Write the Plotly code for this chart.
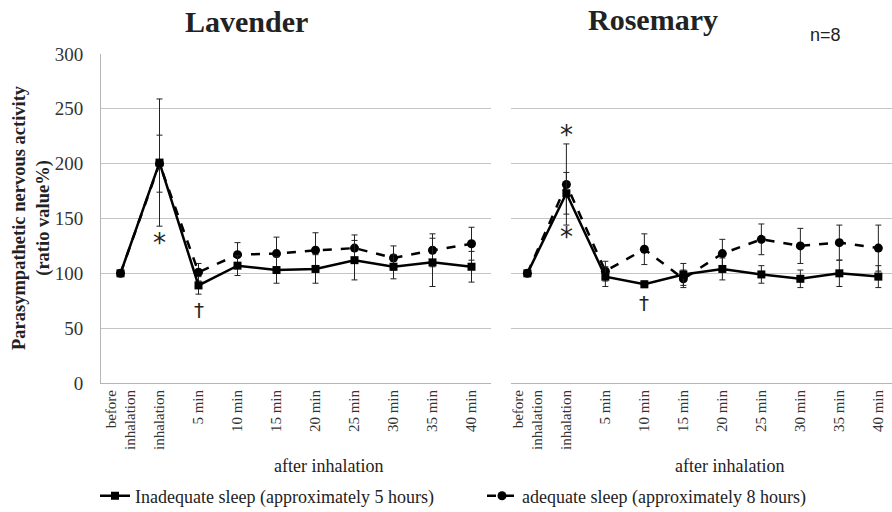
import plotly.graph_objects as go

categories = ["before<br>inhalation", "inhalation", "5 min", "10 min", "15 min",
              "20 min", "25 min", "30 min", "35 min", "40 min"]

lav_inadequate = [100, 201, 89, 107, 103, 104, 112, 106, 110, 106]
lav_inadequate_err = [0, 58, 8, 9, 12, 13, 18, 11, 22, 14]
lav_adequate = [100, 200, 101, 117, 118, 121, 123, 114, 121, 127]
lav_adequate_err = [0, 26, 8, 11, 15, 16, 12, 11, 15, 15]

ros_inadequate = [100, 173, 97, 90, 99, 104, 99, 95, 100, 97]
ros_inadequate_err = [0, 19, 9, 3, 10, 10, 8, 8, 12, 10]
ros_adequate = [100, 181, 102, 122, 95, 118, 131, 125, 128, 123]
ros_adequate_err = [0, 37, 9, 14, 8, 13, 14, 16, 16, 21]

y_ticks = [0, 50, 100, 150, 200, 250, 300]

W, H = 892, 512
SERIF = "Liberation Serif, Times New Roman, serif"
x_idx = list(range(len(categories)))


def px_x(p):
    return p / W


def px_y(p):
    return 1 - p / H


fig = go.Figure()

panels = [
    ("x", "y", lav_adequate, lav_adequate_err, lav_inadequate, lav_inadequate_err, True),
    ("x2", "y2", ros_adequate, ros_adequate_err, ros_inadequate, ros_inadequate_err, False),
]
for xa, ya, ad, ade, inad, inade, show in panels:
    fig.add_trace(go.Scatter(
        x=x_idx, y=ad, xaxis=xa, yaxis=ya, mode="lines+markers",
        name="adequate sleep (approximately 8 hours)", showlegend=show,
        line=dict(color="black", width=2.5, dash="dash"),
        marker=dict(symbol="circle", size=9, color="black"),
        error_y=dict(type="data", array=ade, visible=True, color="#222222", thickness=1, width=3),
        legendrank=2, hoverinfo="skip",
    ))
    fig.add_trace(go.Scatter(
        x=x_idx, y=inad, xaxis=xa, yaxis=ya, mode="lines+markers",
        name="Inadequate sleep (approximately 5 hours)", showlegend=show,
        line=dict(color="black", width=2.5),
        marker=dict(symbol="square", size=8, color="black"),
        error_y=dict(type="data", array=inade, visible=True, color="#222222", thickness=1, width=3),
        legendrank=1, hoverinfo="skip",
    ))

common_x = dict(
    tickmode="array", tickvals=x_idx, ticktext=categories, tickangle=-90,
    tickfont=dict(family=SERIF, size=15, color="#333333"),
    showgrid=False, zeroline=False, showline=True, linecolor="#b5b5b5", linewidth=1,
    ticks="", automargin=False,
)
common_y = dict(
    range=[0, 300], tickmode="array", tickvals=y_ticks, showgrid=True,
    gridcolor="#c4c4c4", gridwidth=1, zeroline=False, ticks="", automargin=False,
)

fig.update_layout(
    width=W, height=H, margin=dict(l=0, r=0, t=0, b=0, autoexpand=False),
    plot_bgcolor="white", paper_bgcolor="white", hovermode=False, dragmode=False,
    xaxis=dict(domain=[px_x(101), px_x(491)], range=[-0.5, 9.5], anchor="y", **common_x),
    xaxis2=dict(domain=[px_x(511), 1.0], range=[-0.42, 9.35], anchor="y2", **common_x),
    yaxis=dict(domain=[px_y(383), px_y(54)], anchor="x", showline=True, linecolor="#b5b5b5",
               linewidth=1, ticklabelstandoff=13,
               tickfont=dict(family=SERIF, size=19, color="#333333"), **common_y),
    yaxis2=dict(domain=[px_y(383), px_y(54)], anchor="x2", showline=False,
                showticklabels=False, **common_y),
    legend=dict(orientation="h", x=px_x(95), y=px_y(496), xanchor="left", yanchor="middle",
                font=dict(family=SERIF, size=18, color="#222222"), itemwidth=30,
                traceorder="normal", entrywidth=342, entrywidthmode="pixels"),
    showlegend=True,
)

annotations = [
    dict(text="<b>Lavender</b>", x=px_x(246), y=px_y(21), xref="paper", yref="paper",
         xanchor="center", yanchor="middle", showarrow=False,
         font=dict(family=SERIF, size=30, color="#222222")),
    dict(text="<b>Rosemary</b>", x=px_x(653), y=px_y(19), xref="paper", yref="paper",
         xanchor="center", yanchor="middle", showarrow=False,
         font=dict(family=SERIF, size=30, color="#222222")),
    dict(text="n=8", x=px_x(825), y=px_y(35), xref="paper", yref="paper",
         xanchor="center", yanchor="middle", showarrow=False,
         font=dict(family="Liberation Sans, Arial, sans-serif", size=18, color="#222222")),
    dict(text="<b>Parasympathetic nervous activity<br>(ratio value%)</b>", textangle=-90,
         x=px_x(31), y=px_y(218), xref="paper", yref="paper", showarrow=False,
         xanchor="center", yanchor="middle",
         font=dict(family=SERIF, size=18.5, color="#222222")),
    dict(text="after inhalation", x=px_x(328), y=px_y(466), xref="paper", yref="paper",
         xanchor="center", yanchor="middle", showarrow=False,
         font=dict(family=SERIF, size=18, color="#222222")),
    dict(text="after inhalation", x=px_x(729), y=px_y(466), xref="paper", yref="paper",
         xanchor="center", yanchor="middle", showarrow=False,
         font=dict(family=SERIF, size=18, color="#222222")),
    dict(text="*", x=1, y=127.5, xref="x", yref="y", showarrow=False,
         font=dict(family="DejaVu Sans", size=26, color="#222222")),
    dict(text="†", x=2, y=67, xref="x", yref="y", showarrow=False,
         font=dict(family="DejaVu Sans", size=20, color="#222222")),
    dict(text="*", x=1, y=226, xref="x2", yref="y2", showarrow=False,
         font=dict(family="DejaVu Sans", size=26, color="#222222")),
    dict(text="*", x=1, y=133, xref="x2", yref="y2", showarrow=False,
         font=dict(family="DejaVu Sans", size=26, color="#222222")),
    dict(text="†", x=3, y=73, xref="x2", yref="y2", showarrow=False,
         font=dict(family="DejaVu Sans", size=20, color="#222222")),
]
fig.update_layout(annotations=annotations)

fig.write_html("out.html", config={"displayModeBar": False, "staticPlot": True},
               post_script="document.body.style.margin='0';document.body.style.overflow='hidden';")
